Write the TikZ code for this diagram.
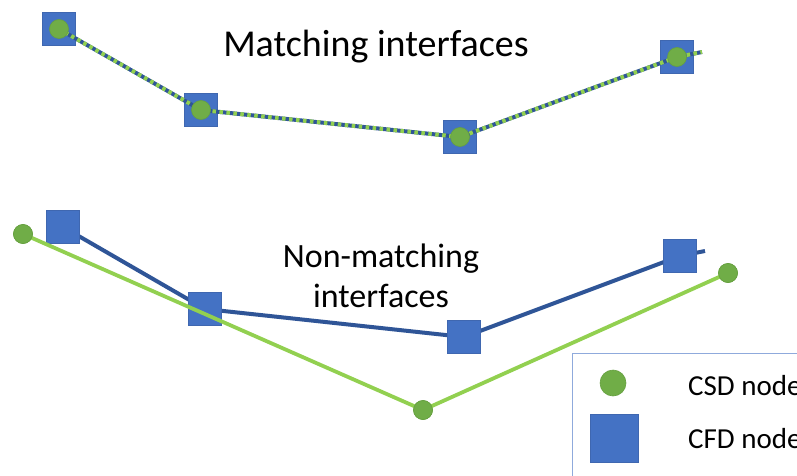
\documentclass[tikz,border=0pt]{standalone}
\usepackage{fontspec}
\setmainfont{Carlito}
\definecolor{sqblue}{HTML}{4472C4}
\definecolor{sqedge}{HTML}{3F67B0}
\definecolor{cgreen}{HTML}{70AD47}
\definecolor{cedge}{HTML}{66A040}
\definecolor{lblue}{HTML}{2F5597}
\definecolor{lgreen}{HTML}{92D050}
\definecolor{legedge}{HTML}{8FAADC}
\tikzset{
  cfd/.style={draw=sqedge, line width=0.8pt, fill=sqblue, minimum size=33pt, inner sep=0pt, outer sep=0pt},
  csd/.style={circle, draw=cedge, line width=0.6pt, fill=cgreen, minimum size=19pt, inner sep=0pt},
  cfdbig/.style={draw=sqedge, line width=0.8pt, fill=sqblue, minimum size=48pt, inner sep=0pt},
  csdbig/.style={circle, draw=cedge, line width=0.6pt, fill=cgreen, minimum size=26pt, inner sep=0pt},
  bline/.style={lblue, line width=4pt},
  gline/.style={lgreen, line width=3.8pt},
  gdash/.style={lgreen, line width=4pt, dash pattern=on 3.5pt off 3.5pt},
  title/.style={font=\fontsize{38}{40}\selectfont, align=center, inner sep=0pt},
  title2/.style={font=\fontsize{34}{40}\selectfont, align=center, inner sep=0pt},
  legtext/.style={font=\fontsize{29}{32}\selectfont, anchor=base west, inner sep=0pt}
}
\begin{document}
\begin{tikzpicture}[x=1pt,y=-1pt]
\useasboundingbox (0,0) rectangle (797,476);
\clip (0,0) rectangle (797,476);
% ---------- Matching interfaces ----------
\node[cfd] (s1) at (59,29) {};
\node[cfd] (s2) at (201,110) {};
\node[cfd] (s3) at (460,137) {};
\node[cfd] (s4) at (677,57) {};
\coordinate (send) at (702,52);
\draw[bline] (s1.center) -- (s2.center) -- (s3.center) -- (s4.center) -- (send);
\draw[gdash] (s1.center) -- (s2.center) -- (s3.center) -- (s4.center) -- (send);
\node[csd] (c1) at (s1.center) {};
\node[csd] (c2) at (s2.center) {};
\node[csd] (c3) at (s3.center) {};
\node[csd] (c4) at (s4.center) {};
\node[title, anchor=base] (t1) at (376,57) {Matching interfaces};
% ---------- Non-matching interfaces ----------
\node[cfd] (b1) at (63,227) {};
\node[cfd] (b2) at (205,309) {};
\node[cfd] (b3) at (464,337) {};
\node[cfd] (b4) at (680,256) {};
\coordinate (bend) at (705,251);
\draw[bline] (b1.center) -- (b2.center) -- (b3.center) -- (b4.center) -- (bend);
\node[cfd] at (b1.center) {};
\node[cfd] at (b2.center) {};
\node[cfd] at (b3.center) {};
\node[cfd] at (b4.center) {};
\node[csd] (d1) at (23,234) {};
\node[csd] (d2) at (423,410) {};
\node[csd] (d3) at (728,273) {};
\draw[gline] (d1.center) -- (d2.center) -- (d3.center);
\node[csd] at (d1.center) {};
\node[csd] at (d2.center) {};
\node[csd] at (d3.center) {};
\node[title2, anchor=base] (t2) at (381,267) {Non-matching};
\node[title2, anchor=base] (t3) at (381,307) {interfaces};
% ---------- Legend ----------
\draw[legedge, line width=0.8pt, fill=white] (572,353) rectangle (820,500);
\node[csdbig] (lc) at (613,383) {};
\node[cfdbig] (ls) at (614,438) {};
\node[legtext] (lt1) at (688,395) {CSD node};
\node[legtext] (lt2) at (688,448) {CFD node};
\end{tikzpicture}
\end{document}
